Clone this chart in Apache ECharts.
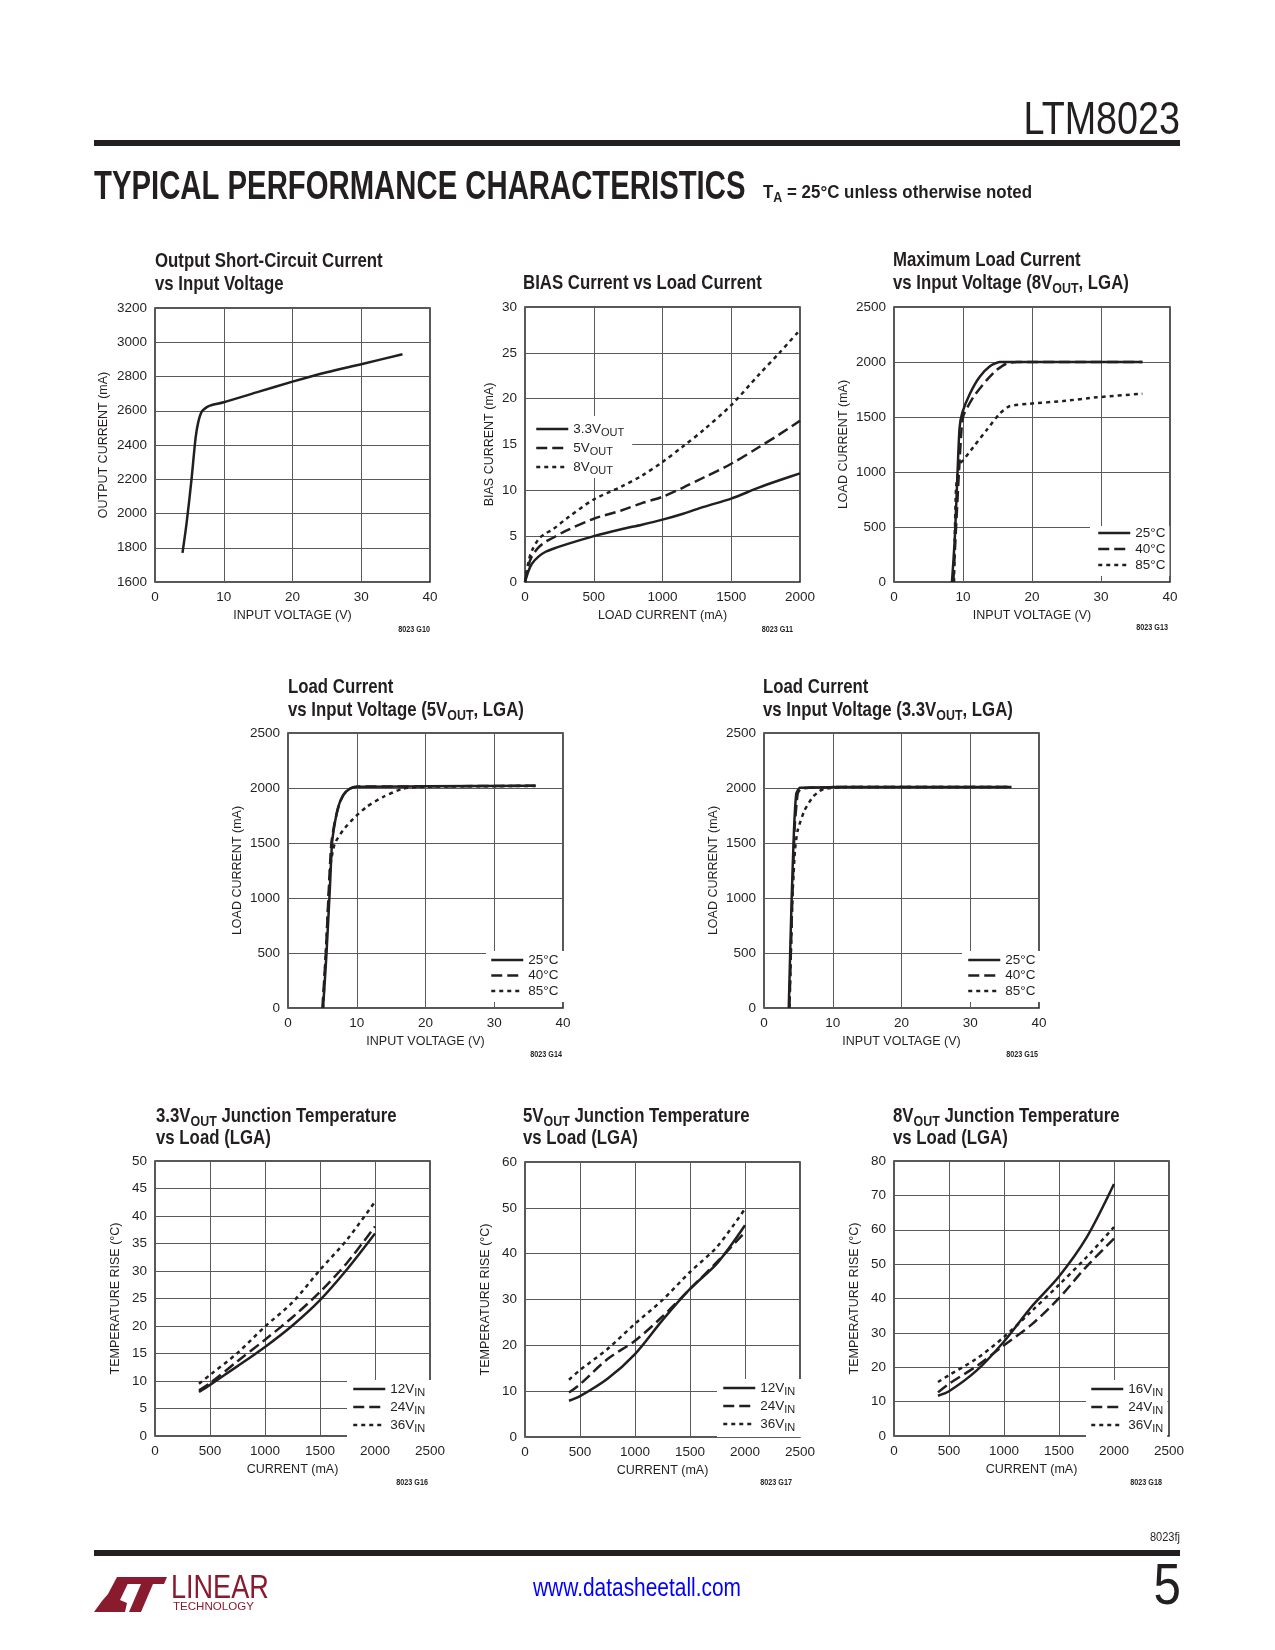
<!DOCTYPE html>
<html><head><meta charset="utf-8">
<script src="https://cdn.jsdelivr.net/npm/echarts@6/dist/echarts.min.js"></script>
<style>html,body{margin:0;padding:0;background:#fff}#c{width:1275px;height:1650px}</style>
</head><body><div id="c"></div>
<script>
// ---------------- DATA ----------------
// G10: Output short-circuit current vs input voltage
const scInputVoltage = [4, 4.6, 5.3, 5.9, 6.3, 6.8, 7.5, 8, 10, 15, 20, 25, 30, 36];
const scOutputCurrent = [1770, 1945, 2195, 2440, 2535, 2595, 2620, 2630, 2650, 2710, 2770, 2825, 2872, 2930];

// G11: BIAS current vs load current
const biasLoad = [0, 25, 50, 100, 150, 200, 300, 500, 700, 850, 1000, 1150, 1300, 1500, 1700, 1850, 2000];
const bias3v3 = [0, 1.2, 2.0, 2.8, 3.3, 3.6, 4.1, 5.0, 5.75, 6.25, 6.8, 7.45, 8.2, 9.1, 10.3, 11.1, 11.85];
const bias5v = [0, 1.8, 2.8, 3.8, 4.4, 4.8, 5.6, 6.9, 7.8, 8.6, 9.3, 10.3, 11.4, 12.9, 14.7, 16.1, 17.6];
const bias8v = [0, 2.2, 3.4, 4.7, 5.3, 5.7, 6.9, 9.0, 10.4, 11.6, 13.1, 14.8, 16.6, 19.3, 22.6, 25.0, 27.5];

// G13: Maximum load current vs input voltage (8VOUT)
const m8Vin25 = [8.4, 8.8, 9.2, 9.5, 9.9, 11, 12.4, 13.9, 15.3, 20, 36];
const m8Load25 = [0, 380, 985, 1400, 1540, 1712, 1864, 1961, 2000, 2000, 2000];
const m8Vin40 = [8.6, 8.9, 9.4, 9.8, 10.1, 11.5, 13.4, 14.8, 16.3, 17.8, 25, 36];
const m8Load40 = [0, 380, 985, 1400, 1520, 1682, 1833, 1924, 1985, 2000, 2000, 2000];
const m8Vin85 = [8.7, 8.8, 9.0, 9.5, 10, 11.5, 13.4, 15.3, 16.8, 19.7, 24.5, 29.4, 36];
const m8Load85 = [0, 380, 860, 1075, 1105, 1227, 1379, 1530, 1600, 1621, 1645, 1679, 1712];

// G14: Load current vs input voltage (5VOUT)
const m5Vin25 = [5.1, 5.6, 6.1, 6.4, 6.8, 7.3, 8.0, 9.0, 10, 20, 36];
const m5Load25 = [0, 495, 1100, 1495, 1676, 1827, 1933, 1994, 2012, 2015, 2020];
const m5Vin40 = [5.0, 5.5, 5.95, 6.3, 6.8, 7.4, 8.1, 9.1, 10, 20, 36];
const m5Load40 = [0, 495, 1100, 1495, 1690, 1840, 1940, 1995, 2012, 2015, 2020];
const m5Vin85 = [5.1, 5.5, 6.0, 6.2, 6.8, 8.0, 9.5, 11.4, 13.8, 16.7, 20, 36];
const m5Load85 = [0, 495, 1100, 1310, 1495, 1615, 1721, 1827, 1918, 1994, 2012, 2018];

// G15: Load current vs input voltage (3.3VOUT)
const m3Vin25 = [3.6, 4.0, 4.36, 4.7, 5.2, 10, 36];
const m3Load25 = [0, 950, 1615, 1950, 2003, 2008, 2010];
const m3Vin40 = [3.7, 4.1, 4.46, 4.9, 5.4, 10, 36];
const m3Load40 = [0, 950, 1645, 1950, 1995, 2008, 2010];
const m3Vin85 = [3.7, 4.1, 4.5, 4.9, 5.9, 7.1, 8.1, 8.8, 12, 36];
const m3Load85 = [0, 950, 1430, 1615, 1797, 1918, 1973, 1994, 2008, 2010];

// G16-G18: Junction temperature rise vs load
const tjLoad = [400, 500, 750, 1000, 1250, 1500, 1750, 2000];
const tj3v3_12 = [8.0, 9.3, 12.7, 16.2, 20.1, 24.7, 30.4, 36.8];
const tj3v3_24 = [8.3, 9.6, 13.6, 17.5, 21.6, 26.2, 31.6, 38.1];
const tj3v3_36 = [9.5, 11.1, 15.1, 19.9, 24.3, 30.2, 35.8, 42.6];
const tj5_12 = [7.9, 8.9, 12.7, 18.1, 25.5, 32.3, 38.0, 46.2];
const tj5_24 = [9.7, 11.5, 17.0, 21.0, 26.3, 32.3, 38.3, 44.7];
const tj5_36 = [12.5, 14.6, 19.2, 24.7, 29.9, 36.0, 41.6, 49.8];
const tj8_16 = [11.7, 13.0, 19.0, 27.5, 37.6, 46.4, 57.7, 73.3];
const tj8_24 = [12.7, 15.2, 20.3, 26.4, 32.4, 40.1, 49.3, 57.4];
const tj8_36 = [15.7, 17.7, 22.5, 28.8, 36.3, 44.0, 52.0, 60.8];

// Legend names
const tempNames = ['25°C', '40°C', '85°C'];
const voutNames = ['3.3VOUT', '5VOUT', '8VOUT'];
const vin12Names = ['12VIN', '24VIN', '36VIN'];
const vin16Names = ['16VIN', '24VIN', '36VIN'];

// ---------------- STYLE ----------------
const INK = '#231f20';
const GRIDC = '#5a5a5c';
const FONT = '"Liberation Sans", Arial, sans-serif';
const DASH = { solid: 'solid', dashed: [11, 5], dotted: [4, 4] };

const zip = (xs, ys) => xs.map((x, i) => [x, ys[i]]);
const plain = v => String(v);

function xAx(gi, min, max, interval, name) {
  return {
    type: 'value', gridIndex: gi, min, max, interval, name,
    nameLocation: 'middle', nameGap: 27,
    nameTextStyle: { fontFamily: FONT, fontSize: 12.5, color: INK },
    axisLine: { show: false }, axisTick: { show: false },
    axisLabel: { fontFamily: FONT, fontSize: 13.5, color: INK, margin: 8, formatter: plain, showMinLabel: true, showMaxLabel: true, hideOverlap: false },
    splitLine: { show: true, lineStyle: { color: GRIDC, width: 1 } }
  };
}
function yAx(gi, min, max, interval, name, gap) {
  return {
    type: 'value', gridIndex: gi, min, max, interval, name,
    nameLocation: 'middle', nameGap: gap,
    nameTextStyle: { fontFamily: FONT, fontSize: 12.5, color: INK },
    axisLine: { show: false }, axisTick: { show: false },
    axisLabel: { fontFamily: FONT, fontSize: 13.5, color: INK, margin: 8, formatter: plain, showMinLabel: true, showMaxLabel: true, hideOverlap: false },
    splitLine: { show: true, lineStyle: { color: GRIDC, width: 1 } }
  };
}
function ser(gi, name, data, dash, smooth) {
  return {
    type: 'line', name, xAxisIndex: gi, yAxisIndex: gi, data,
    showSymbol: false, symbol: 'none', smooth: smooth == null ? 0.3 : smooth,
    color: INK, itemStyle: { color: INK },
    lineStyle: { color: INK, width: 2.5, type: DASH[dash], cap: 'butt' },
    z: 3, silent: true
  };
}
function subFmt(name) {
  const m = name.match(/^(.*V)(IN|OUT)$/);
  return m ? '{n|' + m[1] + '}{s|' + m[2] + '}' : '{n|' + name + '}';
}
function legendAt(names, left, top, padding, itemGap) {
  return {
    orient: 'vertical', left, top, padding, itemGap, align: 'left',
    itemWidth: 32, itemHeight: 14, selectedMode: false,
    backgroundColor: '#ffffff', data: names,
    itemStyle: { opacity: 0 }, lineStyle: { width: 2.5 },
    formatter: subFmt,
    textStyle: {
      fontFamily: FONT, fontSize: 13.5, color: INK,
      rich: {
        n: { fontFamily: FONT, fontSize: 13.5, lineHeight: 15, color: INK },
        s: { fontFamily: FONT, fontSize: 11, lineHeight: 10, padding: [7, 0, 0, 0], color: INK }
      }
    },
    z: 5
  };
}
function tline(x, y, text) {
  return {
    type: 'text', x, y, scaleX: 0.8, silent: true,
    style: {
      text, fill: INK, fontFamily: FONT, fontWeight: 'bold', fontSize: 21, lineHeight: 22,
      align: 'left', verticalAlign: 'middle',
      rich: {
        s: { fill: INK, fontFamily: FONT, fontWeight: 'bold', fontSize: 15.5, lineHeight: 16, padding: [12, 0, 0, 0] }
      }
    }
  };
}
function tag(xRight, y, text) {
  return { type: 'text', x: xRight, y, scaleX: 0.85, silent: true,
    style: { text, fill: INK, fontFamily: FONT, fontWeight: 'bold', fontSize: 8.5, align: 'right', verticalAlign: 'middle' } };
}

const grids = [
  { left: 155, top: 308, width: 275, height: 274 },
  { left: 525, top: 307, width: 275, height: 275 },
  { left: 894, top: 307, width: 276, height: 275 },
  { left: 288, top: 733, width: 275, height: 275 },
  { left: 764, top: 733, width: 275, height: 275 },
  { left: 155, top: 1161, width: 275, height: 275 },
  { left: 525, top: 1162, width: 275, height: 275 },
  { left: 894, top: 1161, width: 275, height: 275 }
].map(g => Object.assign({ show: true, borderColor: INK, borderWidth: 1.5, backgroundColor: 'transparent', containLabel: false, outerBoundsMode: 'none' }, g));

const xAxes = [
  xAx(0, 0, 40, 10, 'INPUT VOLTAGE (V)'),
  xAx(1, 0, 2000, 500, 'LOAD CURRENT (mA)'),
  xAx(2, 0, 40, 10, 'INPUT VOLTAGE (V)'),
  xAx(3, 0, 40, 10, 'INPUT VOLTAGE (V)'),
  xAx(4, 0, 40, 10, 'INPUT VOLTAGE (V)'),
  xAx(5, 0, 2500, 500, 'CURRENT (mA)'),
  xAx(6, 0, 2500, 500, 'CURRENT (mA)'),
  xAx(7, 0, 2500, 500, 'CURRENT (mA)')
];
const yAxes = [
  yAx(0, 1600, 3200, 200, 'OUTPUT CURRENT (mA)', 45),
  yAx(1, 0, 30, 5, 'BIAS CURRENT (mA)', 29),
  yAx(2, 0, 2500, 500, 'LOAD CURRENT (mA)', 44),
  yAx(3, 0, 2500, 500, 'LOAD CURRENT (mA)', 44),
  yAx(4, 0, 2500, 500, 'LOAD CURRENT (mA)', 44),
  yAx(5, 0, 50, 5, 'TEMPERATURE RISE (°C)', 33),
  yAx(6, 0, 60, 10, 'TEMPERATURE RISE (°C)', 33),
  yAx(7, 0, 80, 10, 'TEMPERATURE RISE (°C)', 33)
];

const series = [
  ser(0, 'Output Current', zip(scInputVoltage, scOutputCurrent), 'solid', 0.25),

  ser(1, voutNames[0], zip(biasLoad, bias3v3), 'solid'),
  ser(1, voutNames[1], zip(biasLoad, bias5v), 'dashed'),
  ser(1, voutNames[2], zip(biasLoad, bias8v), 'dotted'),

  ser(2, tempNames[0], zip(m8Vin25, m8Load25), 'solid', 0.2),
  ser(2, tempNames[1], zip(m8Vin40, m8Load40), 'dashed', 0.2),
  ser(2, tempNames[2], zip(m8Vin85, m8Load85), 'dotted', 0.2),

  ser(3, tempNames[0], zip(m5Vin25, m5Load25), 'solid', 0.2),
  ser(3, tempNames[1], zip(m5Vin40, m5Load40), 'dashed', 0.2),
  ser(3, tempNames[2], zip(m5Vin85, m5Load85), 'dotted', 0.2),

  ser(4, tempNames[0], zip(m3Vin25, m3Load25), 'solid', 0.15),
  ser(4, tempNames[1], zip(m3Vin40, m3Load40), 'dashed', 0.15),
  ser(4, tempNames[2], zip(m3Vin85, m3Load85), 'dotted', 0.2),

  ser(5, vin12Names[0], zip(tjLoad, tj3v3_12), 'solid'),
  ser(5, vin12Names[1], zip(tjLoad, tj3v3_24), 'dashed'),
  ser(5, vin12Names[2], zip(tjLoad, tj3v3_36), 'dotted'),

  ser(6, vin12Names[0], zip(tjLoad, tj5_12), 'solid'),
  ser(6, vin12Names[1], zip(tjLoad, tj5_24), 'dashed'),
  ser(6, vin12Names[2], zip(tjLoad, tj5_36), 'dotted'),

  ser(7, vin16Names[0], zip(tjLoad, tj8_16), 'solid'),
  ser(7, vin16Names[1], zip(tjLoad, tj8_24), 'dashed'),
  ser(7, vin16Names[2], zip(tjLoad, tj8_36), 'dotted')
];

const legends = [
  legendAt(voutNames, 526, 416, [4, 8, 2, 9], 1),
  legendAt(tempNames, 1090, 526, [0, 4, 4, 7], 2),
  legendAt(tempNames, 486, 951, [2, 6, 4, 4], 1.5),
  legendAt(tempNames, 962, 951, [2, 6, 4, 5], 1.5),
  legendAt(vin12Names, 347, 1380, [0, 6, 4, 5], 0),
  legendAt(vin12Names, 717, 1379, [0, 6, 4, 5], 0),
  legendAt(vin16Names, 1086, 1380, [0, 4, 4, 4], 0)
];

const LOGO = '#8a1b2e';
const graphics = [
  // header
  { type: 'text', x: 1180, y: 121, scaleX: 0.82, silent: true, style: { text: 'LTM8023', fill: INK, fontFamily: FONT, fontSize: 46, align: 'right', verticalAlign: 'middle' } },
  { type: 'rect', silent: true, shape: { x: 94, y: 140, width: 1086, height: 6 }, style: { fill: INK } },
  { type: 'text', x: 94, y: 188, scaleX: 0.715, silent: true, style: { text: 'TYPICAL PERFORMANCE CHARACTERISTICS', fill: INK, fontFamily: FONT, fontWeight: 'bold', fontSize: 41, align: 'left', verticalAlign: 'middle' } },
  { type: 'text', x: 763, y: 193, scaleX: 0.89, silent: true, style: {
      text: 'T{s|A} = 25°C unless otherwise noted', fill: INK, fontFamily: FONT, fontWeight: 'bold', fontSize: 19, lineHeight: 20,
      align: 'left', verticalAlign: 'middle',
      rich: { s: { fill: INK, fontFamily: FONT, fontWeight: 'bold', fontSize: 14, lineHeight: 14, padding: [10, 0, 0, 0] } } } },
  // titles
  tline(155, 261, 'Output Short-Circuit Current'),
  tline(155, 284, 'vs Input Voltage'),
  tline(523, 283, 'BIAS Current vs Load Current'),
  tline(893, 260, 'Maximum Load Current'),
  tline(893, 283, 'vs Input Voltage (8V{s|OUT}, LGA)'),
  tline(288, 687, 'Load Current'),
  tline(288, 710, 'vs Input Voltage (5V{s|OUT}, LGA)'),
  tline(763, 687, 'Load Current'),
  tline(763, 710, 'vs Input Voltage (3.3V{s|OUT}, LGA)'),
  tline(156, 1116, '3.3V{s|OUT} Junction Temperature'),
  tline(156, 1138, 'vs Load (LGA)'),
  tline(523, 1116, '5V{s|OUT} Junction Temperature'),
  tline(523, 1138, 'vs Load (LGA)'),
  tline(893, 1116, '8V{s|OUT} Junction Temperature'),
  tline(893, 1138, 'vs Load (LGA)'),
  // figure tags
  tag(430, 630, '8023 G10'),
  tag(793, 630, '8023 G11'),
  tag(1168, 628, '8023 G13'),
  tag(562, 1055, '8023 G14'),
  tag(1038, 1055, '8023 G15'),
  tag(428, 1483, '8023 G16'),
  tag(792, 1483, '8023 G17'),
  tag(1162, 1483, '8023 G18'),
  // footer
  { type: 'text', x: 1180, y: 1537, scaleX: 0.85, silent: true, style: { text: '8023fj', fill: INK, fontFamily: FONT, fontSize: 13, align: 'right', verticalAlign: 'middle' } },
  { type: 'rect', silent: true, shape: { x: 94, y: 1550, width: 1086, height: 6 }, style: { fill: INK } },
  { type: 'text', x: 637, y: 1589, scaleX: 0.82, silent: true, style: { text: 'www.datasheetall.com', fill: '#0000ff', fontFamily: FONT, fontSize: 25.5, align: 'center', verticalAlign: 'middle' } },
  { type: 'text', x: 1181, y: 1588, scaleX: 0.85, silent: true, style: { text: '5', fill: INK, fontFamily: FONT, fontSize: 58, align: 'right', verticalAlign: 'middle' } },
  // logo
  { type: 'polygon', silent: true, shape: { points: [[117, 1577], [131, 1577], [120, 1600], [127, 1603], [125, 1612], [94, 1612], [102, 1601], [108, 1594]] }, style: { fill: LOGO } },
  { type: 'polygon', silent: true, shape: { points: [[128, 1577], [167, 1577], [164, 1584], [153, 1584], [141, 1612], [129, 1612], [141, 1584], [125, 1584]] }, style: { fill: LOGO } },
  { type: 'text', x: 171, y: 1589, scaleX: 0.82, silent: true, style: { text: 'LINEAR', fill: LOGO, fontFamily: FONT, fontSize: 33, align: 'left', verticalAlign: 'middle' } },
  { type: 'text', x: 173, y: 1607, scaleX: 1.05, silent: true, style: { text: 'TECHNOLOGY', fill: LOGO, fontFamily: FONT, fontSize: 11, align: 'left', verticalAlign: 'middle' } }
];

const chart = echarts.init(document.getElementById('c'), null, { renderer: 'canvas', width: 1275, height: 1650 });
chart.setOption({
  animation: false,
  backgroundColor: '#ffffff',
  textStyle: { fontFamily: FONT, color: INK },
  grid: grids,
  xAxis: xAxes,
  yAxis: yAxes,
  legend: legends,
  series: series,
  graphic: { elements: graphics }
});
</script>
</body></html>
